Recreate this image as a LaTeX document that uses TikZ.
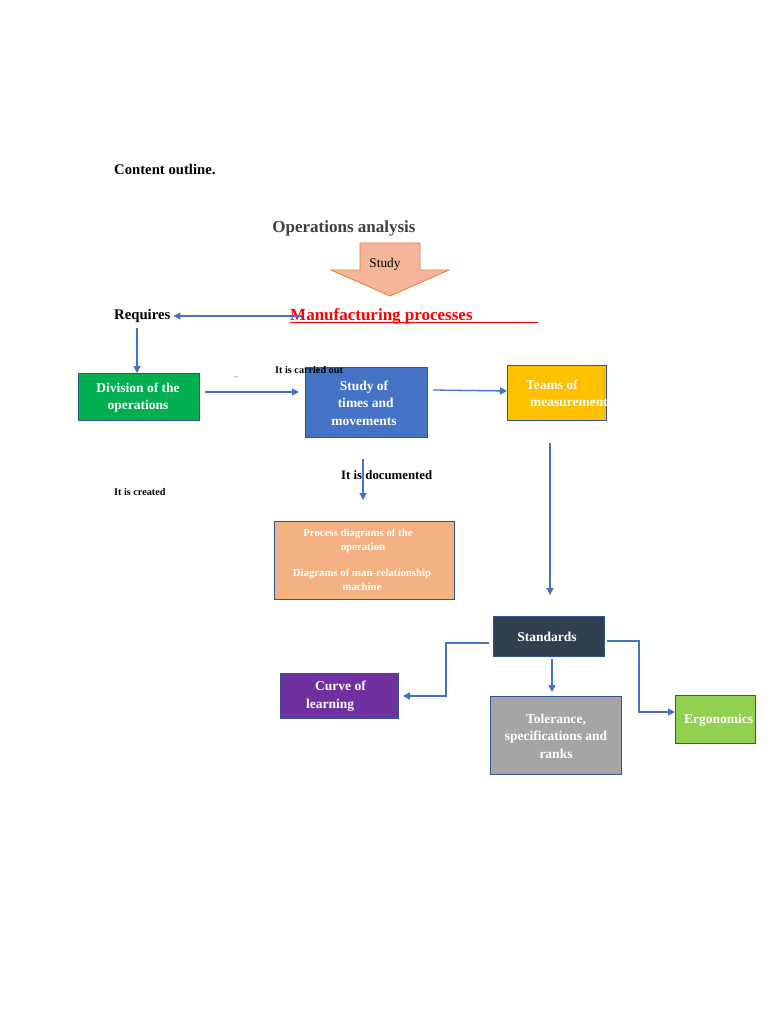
\documentclass[tikz,border=0pt]{standalone}
\usepackage{fontspec}
\setmainfont{Liberation Serif}
\usetikzlibrary{arrows.meta}
\definecolor{arrblue}{HTML}{4472C4}
\definecolor{edgeblue}{HTML}{2F5597}
\definecolor{boxgreen}{HTML}{00B050}
\definecolor{boxblue}{HTML}{4472C4}
\definecolor{boxyellow}{HTML}{FFC000}
\definecolor{boxsalmon}{HTML}{F4B183}
\definecolor{boxnavy}{HTML}{323F4F}
\definecolor{boxpurple}{HTML}{7030A0}
\definecolor{boxgray}{HTML}{A5A5A5}
\definecolor{boxlime}{HTML}{92D050}
\definecolor{bigarrowfill}{HTML}{F4B59A}
\definecolor{bigarrowedge}{HTML}{ED7D31}
\definecolor{titlegray}{HTML}{404040}
\tikzset{
  arr/.style={draw=arrblue, line width=1.3pt, -{Triangle[length=7pt,width=7pt]}},
  box/.style={draw=edgeblue, line width=0.8pt, anchor=north west, inner sep=0pt},
  wtxt/.style={text=white, font=\fontsize{13.5}{17.5}\selectfont\bfseries, align=center, inner sep=0pt},
  lbl/.style={font=\fontsize{14.7}{16}\selectfont\bfseries, inner sep=0pt},
  tiny/.style={font=\fontsize{10.2}{12}\selectfont\bfseries, inner sep=0pt},
}
\begin{document}
\begin{tikzpicture}[x=1pt,y=-1pt]
\useasboundingbox (0,0) rectangle (768,1024);
\fill[white] (0,0) rectangle (768,1024);

% titles
\node[lbl, anchor=west] (outline) at (114,170) {Content outline.};
\node[font=\fontsize{17}{19}\selectfont\bfseries, text=titlegray, inner sep=0pt] (opan) at (344,228) {Operations analysis};

% big block arrow
\draw[fill=bigarrowfill, draw=bigarrowedge, line width=0.8pt]
  (360,243) -- (420,243) -- (420,270) -- (449,270) -- (390,296) -- (331,270) -- (360,270) -- cycle;
\node[font=\fontsize{13.3}{15}\selectfont, inner sep=0pt] (study) at (385,264) {Study};

% manufacturing
\node[font=\fontsize{17}{19}\selectfont\bfseries, text=red, inner sep=0pt, anchor=west] (mfg) at (290,316) {Manufacturing processes};
\draw[red, line width=0.8pt] (290,322.5) -- (538,322.5);

\node[lbl, anchor=west] (req) at (114,316) {Requires};
\draw[arr] ([xshift=12pt]mfg.west) -- ([xshift=3pt]req.east);

% row of boxes
\node[box, fill=boxgreen, minimum width=121pt, minimum height=47pt] (div) at (78,373) {};
\node[wtxt] at (138,397.5) {Division of the\\operations};
\draw[arr] (137,328) -- (div.north -| 137,0);

\node[box, fill=boxblue, minimum width=122pt, minimum height=70pt] (stm) at (305,367) {};
\node[wtxt] at (364,403) {Study of\\\ times and\\movements};

\node[box, fill=boxyellow, minimum width=99pt, minimum height=55pt] (teams) at (507,365) {};
\begin{scope}
\clip (507,365) rectangle (606,420);
\node[wtxt, anchor=west, align=left] at (526,393.5) {Teams of\\\hspace*{4pt}measurement};
\end{scope}

\node[tiny, anchor=west] (carried) at (275,370) {It is carried out};
\node[font=\fontsize{9}{9}\selectfont, text=olive!80!black, inner sep=0pt] (dash) at (236,378) {--};

\draw[arr] (205,392) -- ([xshift=-6pt]stm.west |- 0,392);
\draw[arr] (433,390) -- (teams.west |- 0,391);

% documented
\node[font=\fontsize{12.8}{14}\selectfont\bfseries, inner sep=0pt, anchor=west] (doc) at (341,475) {It is documented};
\draw[arr] (363,459) -- (363,500);
\node[tiny, anchor=west] (created) at (114,492) {It is created};

\node[box, fill=boxsalmon, minimum width=180pt, minimum height=78pt] (diag) at (274,521) {};
\node[text=white, font=\fontsize{10.8}{14}\selectfont\bfseries, align=center, inner sep=0pt] at (358,541) {Process diagrams of the\\\hspace*{10pt}operation};
\node[text=white, font=\fontsize{10.8}{14}\selectfont\bfseries, align=center, inner sep=0pt] at (362,580) {Diagrams of man-relationship\\machine};

% standards
\node[box, fill=boxnavy, minimum width=111pt, minimum height=40pt] (std) at (493,616) {};
\node[wtxt] at (547,637) {Standards};
\draw[arr] (550,443) -- (550,595);

\node[box, fill=boxpurple, minimum width=118pt, minimum height=45pt] (curve) at (280,673) {};
\node[wtxt, align=left] at (336,696) {\hspace*{9pt}Curve of\\learning};

\node[box, fill=boxgray, minimum width=131pt, minimum height=78pt] (tol) at (490,696) {};
\node[wtxt] at (556,736) {Tolerance,\\specifications and\\ranks};

\node[box, fill=boxlime, minimum width=80pt, minimum height=48pt] (ergo) at (675,695) {};
\node[wtxt, anchor=west] at (684,720) {Ergonomics};

\coordinate (sl) at (489,643);
\coordinate (sr) at (607,641);
\draw[arr] (sl) -- (446,643) -- (446,696) -- ([xshift=4pt]curve.east |- 0,696);
\draw[arr] (sr) -- (639,641) -- (639,712) -- (ergo.west |- 0,712);
\draw[arr] (552,659) -- (552,692);
\end{tikzpicture}
\end{document}
